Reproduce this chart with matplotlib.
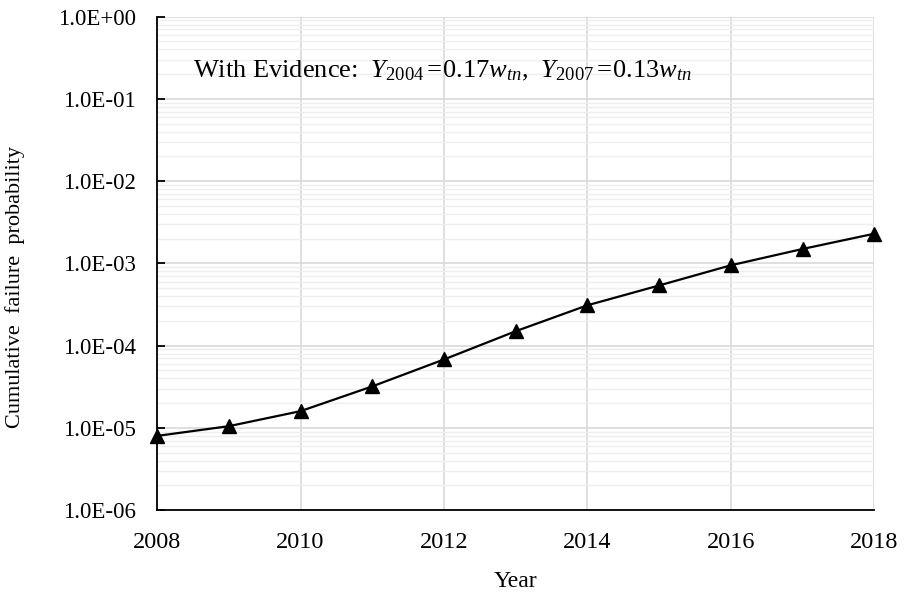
import numpy as np
import matplotlib.pyplot as plt
from matplotlib.ticker import LogLocator, FixedLocator

plt.rcParams['font.family'] = ['Liberation Serif', 'DejaVu Serif']
plt.rcParams['mathtext.fontset'] = 'custom'
plt.rcParams['mathtext.rm'] = 'Liberation Serif'
plt.rcParams['mathtext.it'] = 'Liberation Serif:italic'

# cumulative failure probability per year
years = [2008, 2009, 2010, 2011, 2012, 2013, 2014, 2015, 2016, 2017, 2018]
prob = [8.0e-6, 1.05e-5, 1.6e-5, 3.2e-5, 6.8e-5, 1.5e-4, 3.1e-4, 5.4e-4, 9.5e-4, 1.5e-3, 2.3e-3]
year_ticks = [2008, 2010, 2012, 2014, 2016, 2018]
y_ticks = [1e-6, 1e-5, 1e-4, 1e-3, 1e-2, 1e-1, 1e0]
y_labels = ['1.0E-06', '1.0E-05', '1.0E-04', '1.0E-03', '1.0E-02', '1.0E-01', '1.0E+00']

fig = plt.figure(figsize=(9.08, 5.96), dpi=100)
ax = fig.add_axes([0.173, 0.144, 0.790, 0.828])

ax.plot(years, prob, color='black', lw=1.6, marker='^', markersize=10, zorder=3, clip_on=False)

ax.set_yscale('log')
ax.set_xlim(2008, 2018)
ax.set_ylim(1e-6, 1e0)
ax.set_xticks(year_ticks)
ax.set_xticklabels([str(y) for y in year_ticks])
ax.yaxis.set_major_locator(FixedLocator(y_ticks))
ax.set_yticklabels(y_labels)
ax.yaxis.set_minor_locator(LogLocator(base=10, subs=np.arange(2, 10)))
ax.yaxis.set_minor_formatter(plt.NullFormatter())

ax.grid(True, which='major', color='#d9d9d9', lw=1.2)
ax.grid(True, which='minor', axis='y', color='#eeeeee', lw=1.0)
ax.set_axisbelow(True)

for side in ['top', 'right']:
    ax.spines[side].set_visible(False)
for side in ['left', 'bottom']:
    ax.spines[side].set_linewidth(1.3)

ax.tick_params(axis='y', which='major', direction='in', length=6, width=1.3, labelsize=16.5, pad=15)
ax.tick_params(axis='y', which='minor', length=0)
ax.tick_params(axis='x', which='major', direction='in', length=0, labelsize=17.5, pad=16)

ax.set_xlabel('Year', fontsize=17, labelpad=13)
ax.set_ylabel('Cumulative  failure  probability', fontsize=16)
ax.yaxis.set_label_coords(-0.184, 0.452)

ax.text(0.05, 0.89,
        r'With Evidence:  $Y_{2004}\,\!=\!0.17w_{tn}$,  $Y_{2007}\,\!=\!0.13w_{tn}$',
        transform=ax.transAxes, fontsize=19, va='center', ha='left')

fig.savefig('out.png', dpi=100)
